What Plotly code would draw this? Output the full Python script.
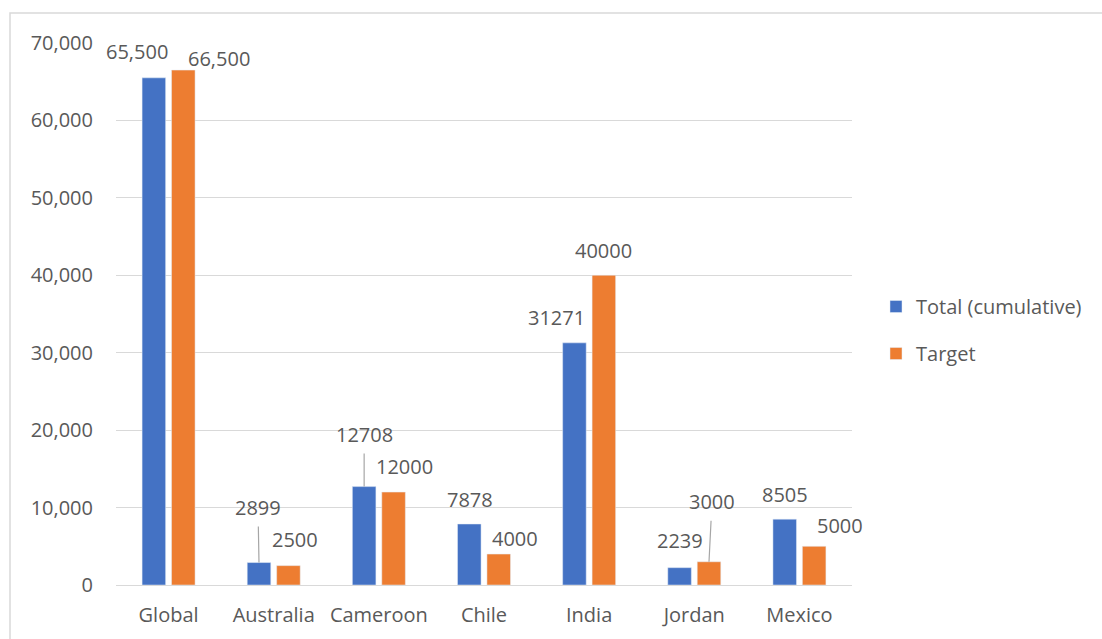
import plotly.graph_objects as go

# ---- data ----
categories = ["Global", "Australia", "Cameroon", "Chile", "India", "Jordan", "Mexico"]
total_cumulative = [65500, 2899, 12708, 7878, 31271, 2239, 8505]
target = [66500, 2500, 12000, 4000, 40000, 3000, 5000]
series_names = ["Total (cumulative)", "Target"]
y_ticks = [0, 10000, 20000, 30000, 40000, 50000, 60000, 70000]

# ---- styling ----
BLUE = "#4472C4"
ORANGE = "#ED7D31"
TEXT = "#595959"
GRID = "#D9D9D9"
FONT = "Open Sans"
FS = 20

# label placement (pixel offsets from bar top centre), leader flag
blue_offsets = [(-17, -26, False), (-1, -55, True), (0, -52, True), (1, -25, False),
                (-18, -25, False), (0, -27, False), (0, -25, False)]
orange_offsets = [(36, -12, False), (7, -26, False), (11, -26, False), (16, -16, False),
                  (0, -25, False), (3, -60, True), (26, -21, False)]

L, R, T, B = 116, 250, 43, 54
W, H = 1102, 639
pw = W - L - R
ph = H - T - B
cat_px = pw / len(categories)
BARGAP = 0.44
slot = cat_px * (1 - BARGAP) / 2
half = slot / 2


def fmt(cat, v):
    return f"{v:,}" if cat == "Global" else str(v)


fig = go.Figure()
fig.add_trace(go.Bar(x=categories, y=total_cumulative, name=series_names[0],
                     marker_color=BLUE, legendgroup="a"))
fig.add_trace(go.Bar(x=categories, y=target, name=series_names[1],
                     marker_color=ORANGE, legendgroup="b"))

annotations = []
for vals, offs, sign in ((total_cumulative, blue_offsets, -1), (target, orange_offsets, 1)):
    for cat, v, (dx, dy, leader) in zip(categories, vals, offs):
        if leader:
            annotations.append(dict(
                x=cat, y=v, xref="x", yref="y", xshift=sign * half,
                text=fmt(cat, v), showarrow=True, arrowhead=0, arrowwidth=1.2,
                arrowcolor="#A6A6A6", ax=dx, ay=dy, startstandoff=4,
                font=dict(family=FONT, size=FS, color=TEXT)))
        else:
            annotations.append(dict(
                x=cat, y=v, xref="x", yref="y", xshift=sign * half + dx, yshift=-dy,
                text=fmt(cat, v), showarrow=False,
                font=dict(family=FONT, size=FS, color=TEXT)))

# chart-area border (light grey frame)
shapes = [dict(type="rect", xref="paper", yref="paper",
               x0=(10 - L) / pw, x1=(W + 20 - L) / pw,
               y0=-(B + 20) / ph, y1=(H - B - 13) / ph,
               line=dict(color=GRID, width=1.5), fillcolor="rgba(0,0,0,0)", layer="below")]

fig.update_layout(
    width=W, height=H,
    margin=dict(l=L, r=R, t=T, b=B),
    paper_bgcolor="white", plot_bgcolor="white",
    barmode="group", bargap=BARGAP, bargroupgap=0.2,
    font=dict(family=FONT, size=FS, color=TEXT),
    showlegend=True,
    legend=dict(x=(876 - L) / pw, xanchor="left", y=(H - B - 330) / ph, yanchor="middle",
                traceorder="grouped", tracegroupgap=18,
                font=dict(family=FONT, size=FS, color=TEXT), bgcolor="rgba(0,0,0,0)"),
    annotations=annotations,
    shapes=shapes,
    xaxis=dict(range=[-0.5, len(categories) - 0.5], autorange=False,
               showgrid=False, showline=False, ticks="", ticklabelstandoff=16,
               tickfont=dict(family=FONT, size=FS, color=TEXT)),
    yaxis=dict(range=[0, 70000], autorange=False, tickvals=y_ticks, tickformat=",",
               showgrid=True, gridcolor=GRID, gridwidth=1, zeroline=True,
               zerolinecolor=GRID, zerolinewidth=1, showline=False, ticks="",
               ticklabelstandoff=22, tickfont=dict(family=FONT, size=FS, color=TEXT)),
)

fig.write_html("out.html")
